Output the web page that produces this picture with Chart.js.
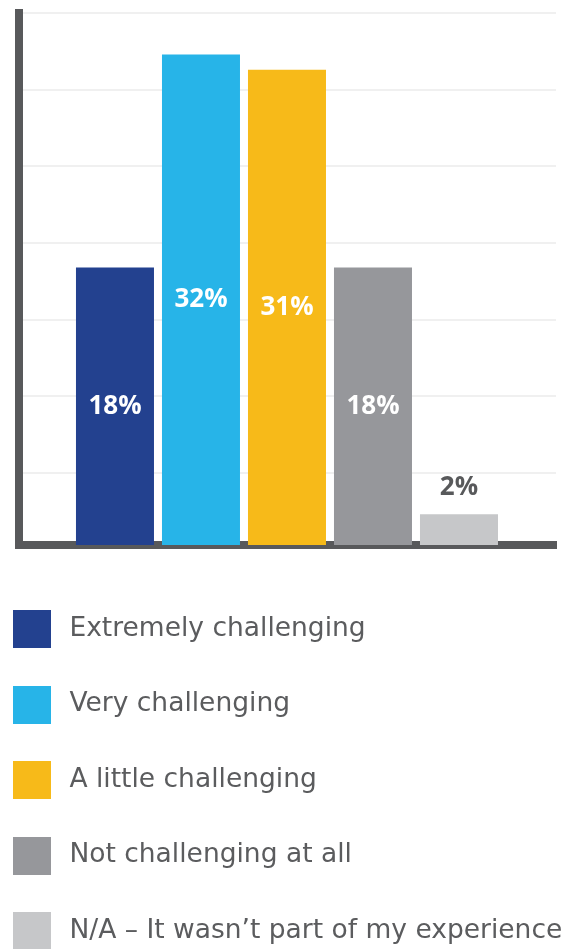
<!DOCTYPE html>
<html>
<head>
<meta charset="utf-8">
<script src="https://cdn.jsdelivr.net/npm/chart.js@4/dist/chart.umd.min.js"></script>
<style>
  html, body { margin: 0; padding: 0; background: #ffffff; }
  #wrap { position: relative; width: 575px; height: 949px; }
</style>
</head>
<body>
<div id="wrap"><canvas id="c"></canvas></div>
<script>
// ---- data ----
const categories = [
  "Extremely challenging",
  "Very challenging",
  "A little challenging",
  "Not challenging at all",
  "N/A \u2013 It wasn\u2019t part of my experience"
];
const values = [18.4, 32.3, 31.3, 18.4, 2.3];          // bar heights
const valueLabels = ["18%", "32%", "31%", "18%", "2%"];  // printed labels
const barColors = ["#23418f", "#27b4e8", "#f7ba19", "#96979b", "#c6c7c9"];
const labelColors = ["#ffffff", "#ffffff", "#ffffff", "#ffffff", "#58595b"];
const labelInside = [true, true, true, true, false];
const yTicks = [0, 5, 10, 15, 20, 25, 30, 35];

// legend swatches as small canvases
function swatch(color) {
  const cv = document.createElement('canvas');
  cv.width = 38; cv.height = 38;
  const cx = cv.getContext('2d');
  cx.fillStyle = color; cx.fillRect(0, 0, 38, 38);
  return cv;
}
const swatches = barColors.map(swatch);

const barLabelPlugin = {
  id: 'barLabels',
  afterDatasetsDraw(chart) {
    const ctx = chart.ctx;
    const meta = chart.getDatasetMeta(0);
    ctx.save();
    ctx.font = "bold 26px 'Open Sans'";
    ctx.textAlign = 'center';
    ctx.textBaseline = 'middle';
    meta.data.forEach((el, i) => {
      ctx.fillStyle = labelColors[i];
      let y;
      if (labelInside[i]) {
        y = (el.y + el.base) / 2 - 2;
      } else {
        y = el.y - 27;
      }
      ctx.fillText(valueLabels[i], el.x, y);
    });
    ctx.restore();
  }
};

new Chart(document.getElementById('c'), {
  type: 'bar',
  data: {
    datasets: [{
      data: values.map((v, i) => ({ x: i + 1, y: v })),
      backgroundColor: barColors,
      borderWidth: 0,
      categoryPercentage: 1,
      barPercentage: 0.907
    }]
  },
  options: {
    responsive: true,
    maintainAspectRatio: false,
    animation: false,
    events: [],
    layout: { padding: { left: -41.15, right: 0, top: 13, bottom: -5.25 } },
    scales: {
      x: {
        type: 'linear',
        min: -0.116,
        max: 6.128,
        offset: false,
        z: 1,
        afterBuildTicks: s => { s.ticks = categories.map((c, i) => ({ value: i + 1 })); },
        afterFit: s => { s.height = 21.75; },
        grid: { display: false, drawTicks: false, offset: false },
        border: { display: true, color: '#58595b', width: 8 },
        ticks: { display: false }
      },
      y: {
        min: 0.3,
        max: 35,
        afterBuildTicks: s => { s.ticks = yTicks.map(v => ({ value: Math.max(v, 0.3) })); },
        afterFit: s => { s.width = 60.15; },
        grid: { color: '#f0f0f0', lineWidth: 2, drawTicks: false },
        border: { display: true, color: '#58595b', width: 8 },
        ticks: { display: false }
      },
      yRight: {
        position: 'right',
        display: true,
        min: 0,
        max: 35,
        afterFit: s => { s.width = 19; },
        grid: { display: false, drawTicks: false },
        border: { display: false },
        ticks: { display: false }
      }
    },
    plugins: {
      tooltip: { enabled: false },
      legend: {
        position: 'bottom',
        align: 'start',
        labels: {
          usePointStyle: true,
          pointStyleWidth: 48.3,
          padding: 49,
          color: '#5b5c5e',
          font: { family: "'DejaVu Sans'", size: 26.5 },
          generateLabels: () => categories.map((c, i) => ({
            text: c,
            fillStyle: barColors[i],
            strokeStyle: barColors[i],
            fontColor: '#5b5c5e',
            lineWidth: 0,
            pointStyle: swatches[i],
            hidden: false,
            index: i,
            datasetIndex: 0
          }))
        }
      }
    }
  },
  plugins: [barLabelPlugin]
});
</script>
</body>
</html>
